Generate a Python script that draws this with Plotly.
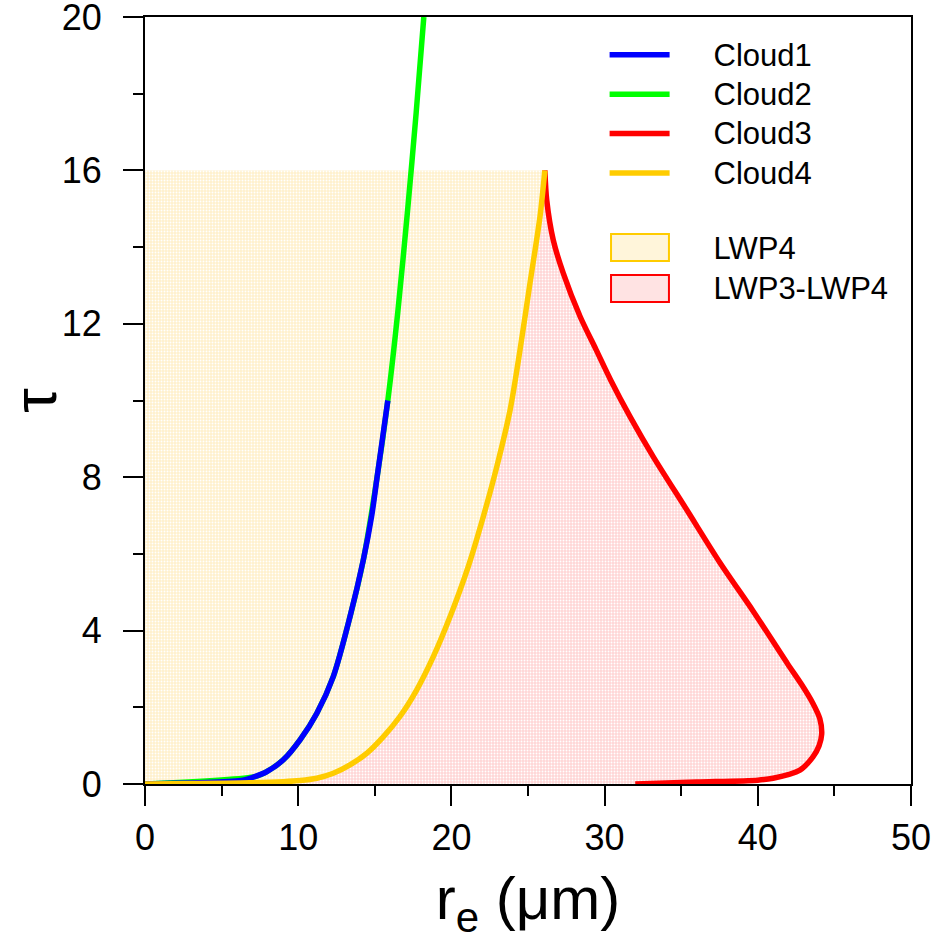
import plotly.graph_objects as go

# Cloud1 (blue): effective radius (um) vs optical depth
cloud1_re = [0.0, 6.4, 7.0, 7.94, 9.03, 10.12, 11.21, 12.29, 13.38, 14.25, 14.8, 15.15, 15.5, 15.85]
cloud1_tau = [0.0, 0.1, 0.17, 0.32, 0.63, 1.15, 1.84, 2.80, 4.36, 5.84, 7.0, 8.0, 9.0, 10.0]

# Cloud2 (green)
cloud2_re = [0.0, 7.25, 7.94, 9.03, 10.12, 11.21, 12.29, 13.38, 14.25, 15.15, 15.85, 16.5, 17.15, 17.7, 18.2]
cloud2_tau = [0.0, 0.2, 0.32, 0.63, 1.15, 1.84, 2.80, 4.36, 5.84, 8.0, 10.0, 12.3, 15.0, 17.5, 20.0]

# Cloud3 (red)
cloud3_re = [32.0, 36.0, 40.0, 41.0, 42.75, 43.6, 44.0, 44.17, 44.05, 43.6, 42.85, 41.95, 39.71,
             37.53, 35.36, 33.18, 31.66, 30.4, 29.45, 28.4, 27.3, 26.65, 26.22, 26.1]
cloud3_tau = [0.0, 0.05, 0.1, 0.15, 0.36, 0.71, 1.0, 1.3, 1.7, 2.1, 2.6, 3.13, 4.50,
              5.77, 7.15, 8.53, 9.58, 10.53, 11.32, 12.19, 13.32, 14.18, 15.23, 16.0]

# Cloud4 (orange)
cloud4_re = [0.0, 6.85, 9.03, 10.12, 11.21, 12.29, 13.38, 14.47, 15.55, 16.64, 17.73, 18.82,
             19.91, 21.1, 22.08, 22.96, 23.83, 24.48, 25.13, 25.78, 26.1]
cloud4_tau = [0.0, 0.03, 0.06, 0.09, 0.15, 0.28, 0.50, 0.80, 1.23, 1.76, 2.45, 3.32,
              4.36, 5.67, 6.97, 8.27, 9.75, 11.32, 13.06, 14.79, 16.0]

tau_top = 16.0

x_ticks = [0, 10, 20, 30, 40, 50]
y_ticks = [0, 4, 8, 12, 16, 20]

FONT = "Liberation Sans, Arial, sans-serif"
BLUE, GREEN, RED, ORANGE = "#0000FF", "#00FF00", "#FF0000", "#FFCC00"
YEL_FILL, PINK_FILL = "#FFF5DA", "#FFE3E3"

yel_pat = dict(shape=".", bgcolor="#FFF1CC", fgcolor="#FFFFFF", size=3, solidity=0.3, fillmode="replace")
pink_pat = dict(shape=".", bgcolor="#FFD6D6", fgcolor="#FFFFFF", size=3, solidity=0.3, fillmode="replace")

PAD = "\u00a0" * 5


def lname(s):
    return PAD + '<span style="font-size:31px">' + s + '</span>'


fig = go.Figure()

# LWP4 region: left of Cloud4 up to tau_top
fig.add_trace(go.Scatter(
    x=cloud4_re + [0.0], y=cloud4_tau + [tau_top],
    fill="toself", mode="none", fillpattern=yel_pat, fillcolor=YEL_FILL,
    showlegend=False, hoverinfo="skip"))
# LWP3-LWP4 region: between Cloud4 and Cloud3
fig.add_trace(go.Scatter(
    x=cloud4_re + cloud3_re[::-1], y=cloud4_tau + cloud3_tau[::-1],
    fill="toself", mode="none", fillpattern=pink_pat, fillcolor=PINK_FILL,
    showlegend=False, hoverinfo="skip"))

line_w = 5.5
sm = 0.8
fig.add_trace(go.Scatter(x=cloud2_re, y=cloud2_tau, mode="lines", name=lname("Cloud2"),
                         line=dict(color=GREEN, width=line_w, shape="spline", smoothing=sm),
                         legendgroup="a", legendrank=2))
fig.add_trace(go.Scatter(x=cloud1_re, y=cloud1_tau, mode="lines", name=lname("Cloud1"),
                         line=dict(color=BLUE, width=line_w, shape="spline", smoothing=sm),
                         legendgroup="a", legendrank=1))
fig.add_trace(go.Scatter(x=cloud3_re, y=cloud3_tau, mode="lines", name=lname("Cloud3"),
                         line=dict(color=RED, width=line_w, shape="spline", smoothing=sm),
                         legendgroup="a", legendrank=3))
fig.add_trace(go.Scatter(x=cloud4_re, y=cloud4_tau, mode="lines", name=lname("Cloud4"),
                         line=dict(color=ORANGE, width=line_w, shape="spline", smoothing=sm),
                         legendgroup="a", legendrank=4))

# legend entries for the filled regions (key boxes drawn as shapes below)
fig.add_trace(go.Scatter(x=[None], y=[None], mode="lines", name=lname("LWP4"),
                         line=dict(color="rgba(0,0,0,0)", width=0),
                         legendgroup="b", legendrank=5, hoverinfo="skip"))
fig.add_trace(go.Scatter(x=[None], y=[None], mode="lines", name=lname("LWP3-LWP4"),
                         line=dict(color="rgba(0,0,0,0)", width=0),
                         legendgroup="b", legendrank=6, hoverinfo="skip"))

# legend key boxes (paper coordinates)
key_x = (0.6084, 0.684)
fig.add_shape(type="rect", xref="paper", yref="paper", x0=key_x[0], x1=key_x[1],
              y0=0.6819, y1=0.7171, fillcolor=YEL_FILL, line=dict(color=ORANGE, width=2), layer="above")
fig.add_shape(type="rect", xref="paper", yref="paper", x0=key_x[0], x1=key_x[1],
              y0=0.6284, y1=0.6636, fillcolor=PINK_FILL, line=dict(color=RED, width=2), layer="above")

axis_common = dict(
    showline=True, linecolor="black", linewidth=2, mirror=True,
    ticks="outside", ticklen=20, tickwidth=2, tickcolor="black",
    showgrid=False, zeroline=False, ticklabeloverflow="allow",
    tickfont=dict(family=FONT, size=36, color="black"),
)

fig.update_xaxes(
    range=[0, 50], tickvals=x_ticks, ticktext=[str(v) for v in x_ticks],
    minor=dict(dtick=5, ticklen=10, tickwidth=2, tickcolor="black", ticks="outside", showgrid=False),
    ticklabelstandoff=1,
    title=dict(text="r<sub>e</sub> (μm)", font=dict(family=FONT, size=60, color="black"), standoff=20),
    **axis_common)
fig.update_yaxes(
    range=[0, 20], tickvals=y_ticks, ticktext=[str(v) for v in y_ticks],
    minor=dict(dtick=2, ticklen=10, tickwidth=2, tickcolor="black", ticks="outside", showgrid=False),
    ticklabelstandoff=14,
    title=dict(text="τ", font=dict(family=FONT, size=62, color="black"), standoff=16),
    **axis_common)

fig.update_layout(
    width=937, height=943,
    margin=dict(l=145, r=26, t=17, b=159, autoexpand=False),
    paper_bgcolor="white", plot_bgcolor="white",
    showlegend=True,
    legend=dict(x=0.6, xanchor="left", y=0.983, yanchor="top",
                bgcolor="rgba(0,0,0,0)", borderwidth=0,
                font=dict(family=FONT, size=28, color="black"),
                traceorder="grouped", tracegroupgap=36, itemwidth=60),
)

fig.write_html("out.html")
